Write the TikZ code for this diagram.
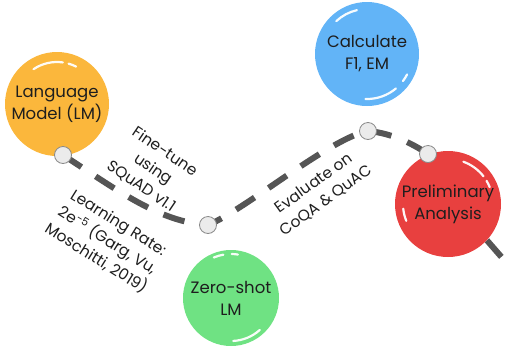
\documentclass[tikz,border=0pt]{standalone}
\usepackage{fontspec}
\setmainfont{Poppins}
\definecolor{lmc}{HTML}{FBB73C}
\definecolor{calcc}{HTML}{62B4F7}
\definecolor{pac}{HTML}{E8403F}
\definecolor{zsc}{HTML}{6FE283}
\definecolor{roadc}{HTML}{555555}
\definecolor{dotfill}{HTML}{EBEBEB}
\definecolor{dotedge}{HTML}{8A8A8A}
\definecolor{textc}{HTML}{1E1E1E}
\begin{document}
\begin{tikzpicture}[x=1pt,y=-1pt,
  bubble/.style={circle, minimum size=#1, inner sep=0pt, align=center,
    font=\fontsize{16.5}{22}\selectfont, text=textc},
  dotnode/.style={circle, minimum size=17pt, inner sep=0pt, fill=dotfill, draw=dotedge, line width=0.8pt},
  road/.style={line width=6pt, draw=roadc, dash pattern=on 22pt off 17pt},
  lbl/.style={align=center, font=\fontsize{15.5}{21}\selectfont, text=textc, inner sep=0pt},
  shine/.style={draw=white, line width=2.2pt, line cap=round, opacity=0.95}]
\useasboundingbox (0,0) rectangle (506,349);
% path coordinates
\coordinate (d1c) at (63,155);
\coordinate (d2c) at (208,225);
\coordinate (d3c) at (368,131);
\coordinate (d4c) at (428,154);
\coordinate (endc) at (518,276);
% bubbles
\node[bubble=104pt, fill=lmc] (lm) at (57,104) {Language\\Model (LM)};
\node[bubble=104pt, fill=calcc] (calc) at (367,54) {Calculate\\F1, EM};
\node[bubble=96pt, fill=zsc] (zs) at (231,298) {Zero-shot\\LM};
% road
\draw[road] (d1c) .. controls (120,192) and (160,222) .. (d2c)
  .. controls (245,210) and (330,138) .. (d3c)
  .. controls (390,133) and (410,142) .. (d4c);
\node[bubble=106pt] (paback) at (448,204) {};
\draw[road] (paback.-43) -- (endc);
\node[bubble=106pt, fill=pac] (pa) at (448,204) {Preliminary\\Analysis};
% dots
\node[dotnode] (d1) at (d1c) {};
\node[dotnode] (d2) at (d2c) {};
\node[dotnode] (d3) at (d3c) {};
\node[dotnode] (d4) at (d4c) {};
% shines
\begin{scope}[shift={(lm.center)}, x=1pt, y=1pt]
  \draw[shine] (82:42) arc[start angle=82, end angle=124, radius=42];
  \draw[shine] (63:42) arc[start angle=63, end angle=74, radius=42];
\end{scope}
\begin{scope}[shift={(calc.center)}, x=1pt, y=1pt]
  \draw[shine] (103:45) arc[start angle=103, end angle=133, radius=45];
  \draw[shine] (-92:45) arc[start angle=-92, end angle=-50, radius=45];
  \draw[shine] (-37:45) arc[start angle=-37, end angle=-27, radius=45];
\end{scope}
\begin{scope}[shift={(pa.center)}, x=1pt, y=1pt]
  \draw[shine] (38:45) arc[start angle=38, end angle=70, radius=45];
  \draw[shine] (22:45) arc[start angle=22, end angle=31, radius=45];
  \draw[shine] (186:45) arc[start angle=186, end angle=202, radius=45];
\end{scope}
\begin{scope}[shift={(zs.center)}, x=1pt, y=1pt]
  \draw[shine] (100:44) arc[start angle=100, end angle=113, radius=44];
  \draw[shine] (81:44) arc[start angle=81, end angle=89, radius=44];
  \draw[shine] (-87:43) arc[start angle=-87, end angle=-48, radius=43];
\end{scope}
% labels
\node[lbl, rotate=-34] (ft) at (153,169) {Fine-tune\\using\\SQuAD v1.1};
\node[lbl, rotate=-32] (lr) at (107,241) {Learning Rate:\\2e\textsuperscript{-5} (Garg, Vu,\\Moschitti, 2019)};
\node[lbl, rotate=36] (ev) at (320,192) {Evaluate on\\CoQA \& QuAC};
\end{tikzpicture}
\end{document}
